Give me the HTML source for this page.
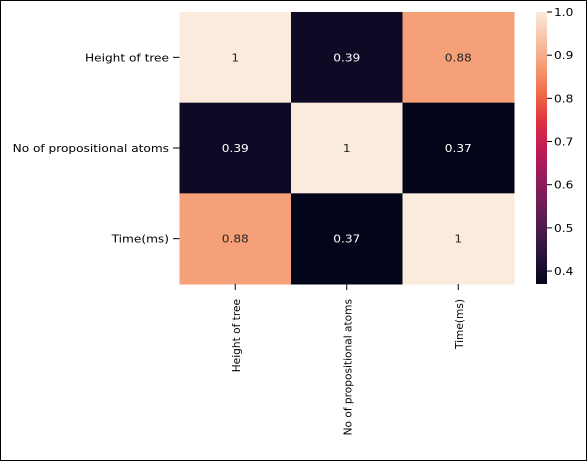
<!DOCTYPE html>
<html><head><meta charset="utf-8"><style>
html,body{margin:0;padding:0;background:#fff}
svg{display:block;font-family:"DejaVu Sans","Liberation Sans",sans-serif}
</style></head><body>
<svg id="chart" width="587" height="462">
<defs><linearGradient id="rocket" x1="0" y1="1" x2="0" y2="0">
<stop offset="0" stop-color="#03051a"/><stop offset="0.1" stop-color="#26123a"/>
<stop offset="0.2" stop-color="#4a1a4f"/><stop offset="0.3" stop-color="#711e57"/>
<stop offset="0.4" stop-color="#9a1b5b"/><stop offset="0.5" stop-color="#c11a55"/>
<stop offset="0.6" stop-color="#e0323f"/><stop offset="0.7" stop-color="#f06a47"/>
<stop offset="0.8" stop-color="#f59c75"/><stop offset="0.9" stop-color="#f7c2a4"/>
<stop offset="1" stop-color="#faebdd"/></linearGradient></defs>
<rect x="0.5" y="0.5" width="586" height="460" fill="none" stroke="#000"/>
<g id="cells"></g>
<rect x="536" y="12" width="11" height="272" fill="url(#rocket)"/>
<g id="cbticks"></g>
</svg>
<script>
const labels = ["Height of tree","No of propositional atoms","Time(ms)"];
const row0 = [1, 0.39, 0.88];
const row1 = [0.39, 1, 0.37];
const row2 = [0.88, 0.37, 1];
const cbTicks = [0.4,0.5,0.6,0.7,0.8,0.9,1.0];
const vmin = 0.37, vmax = 1.0;
const rows=[row0,row1,row2];
const X0=179.5,X1=514,Y0=12,Y1=284;
const FS='10.4', SX=1.17;
const cw=(X1-X0)/3,ch=(Y1-Y0)/3;
const stops=[[0,"#03051a"],[0.1,"#26123a"],[0.2,"#4a1a4f"],[0.3,"#711e57"],[0.4,"#9a1b5b"],[0.5,"#c11a55"],[0.6,"#e0323f"],[0.7,"#f06a47"],[0.8,"#f59c75"],[0.9,"#f7c2a4"],[1,"#faebdd"]];
function hex(h){return [1,3,5].map(i=>parseInt(h.substr(i,2),16));}
function color(v){let t=Math.max(0,Math.min(1,(v-vmin)/(vmax-vmin)));
for(let i=1;i<stops.length;i++){if(t<=stops[i][0]){const a=stops[i-1],b=stops[i];const f=(t-a[0])/(b[0]-a[0]);const ca=hex(a[1]),cb=hex(b[1]);return "rgb("+ca.map((c,k)=>Math.round(c+(cb[k]-c)*f)).join(",")+")";}}return stops[10][1];}
function cy(v){return Y1-(v-vmin)/(vmax-vmin)*(Y1-Y0);}
const NS="http://www.w3.org/2000/svg";
const g=document.getElementById('cells'),cb=document.getElementById('cbticks');
function mk(tag,attrs,par,txt){const e=document.createElementNS(NS,tag);for(const k in attrs)e.setAttribute(k,attrs[k]);if(txt!==undefined)e.textContent=txt;par.appendChild(e);return e;}
rows.forEach((r,i)=>r.forEach((v,j)=>{
 const rc=mk('rect',{x:X0+j*cw,y:Y0+i*ch,width:cw+0.5,height:ch+0.5,fill:color(v)},g);
 
 
 const t=(v-vmin)/(vmax-vmin);
 const tx=mk('text',{x:0,y:0,'text-anchor':'middle','font-size':FS,fill:t>0.5?'#262626':'#ffffff',transform:`translate(${X0+(j+0.5)*cw},${Y0+(i+0.5)*ch+4}) scale(${SX},1)`},g,String(v));
 
 
}));
labels.forEach((l,i)=>{
 const y=Y0+(i+0.5)*ch;
 mk('line',{x1:173,x2:179.5,y1:y,y2:y,stroke:'#000'},g);
 const t=mk('text',{x:0,y:0,'text-anchor':'end','font-size':FS,fill:'#000',transform:`translate(169,${y+4}) scale(${SX},1)`},g,l);
 
 
 const x=X0+(i+0.5)*cw;
 mk('line',{x1:x,x2:x,y1:Y1,y2:Y1+6,stroke:'#000'},g);
 const xt=mk('text',{x:0,y:0,'text-anchor':'end','font-size':'10.6',fill:'#000',transform:`translate(${x+4.5},${Y1+15}) rotate(-90)`},g,l);
 
 
});
cbTicks.forEach(v=>{
 const y=cy(v);
 mk('line',{x1:547,x2:552,y1:y,y2:y,stroke:'#000'},cb);
 const t=mk('text',{x:0,y:0,'font-size':FS,fill:'#000',transform:`translate(554,${y+4}) scale(${SX},1)`},cb,v.toFixed(1));
 
 
});
</script>
</body></html>
